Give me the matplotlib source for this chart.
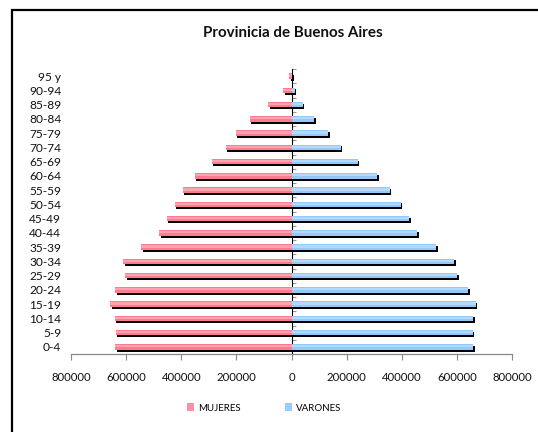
import matplotlib
matplotlib.use("Agg")
import matplotlib.pyplot as plt
import matplotlib.patheffects as pe
from matplotlib.patches import Rectangle, Patch
from matplotlib.ticker import FuncFormatter
import numpy as np

plt.rcParams['font.family'] = ['Lato', 'DejaVu Sans']

age_groups = ["0-4", "5-9", "10-14", "15-19", "20-24", "25-29", "30-34", "35-39",
              "40-44", "45-49", "50-54", "55-59", "60-64", "65-69", "70-74",
              "75-79", "80-84", "85-89", "90-94", "95 y"]
mujeres = [640000, 638000, 641000, 658000, 640000, 604000, 611000, 546000,
           480000, 452000, 423000, 394000, 351000, 289000, 238000,
           202000, 151000, 85000, 30000, 8000]
varones = [659000, 657000, 659000, 669000, 642000, 601000, 590000, 526000,
           456000, 428000, 396000, 356000, 312000, 240000, 179000,
           134000, 83000, 40000, 12000, 3000]
xticks = [-800000, -600000, -400000, -200000, 0, 200000, 400000, 600000, 800000]
title = "Provinicia de Buenos Aires"

W, H = 538, 432
fig = plt.figure(figsize=(W / 100, H / 100), dpi=100)
ax = fig.add_axes([71 / W, 1 - 354 / H, (512 - 71) / W, (354 - 69) / H])

y = np.arange(len(age_groups))
m = -np.array(mujeres)
v = np.array(varones)
bh = 0.40
shadow = [pe.SimplePatchShadow(offset=(1.1, -1.4), shadow_rgbFace='black', alpha=1.0), pe.Normal()]

ax.barh(y, m, height=bh, color='#FF7B8D', edgecolor='none', path_effects=shadow, zorder=2)
ax.barh(y + 0.04, m, height=0.16, color='#FFA2B2', edgecolor='none', zorder=3)
ax.barh(y, v, height=bh, color='#94C8F8', edgecolor='none', path_effects=shadow, zorder=2)
ax.barh(y + 0.04, v, height=0.16, color='#B4D9FF', edgecolor='none', zorder=3)

ax.set_xlim(-800000, 800000)
ax.set_ylim(-0.5, len(age_groups) - 0.5)
ax.set_xticks(xticks)
ax.xaxis.set_major_formatter(FuncFormatter(lambda val, pos: f"{abs(int(val))}"))
ax.set_yticks(y)
ax.set_yticklabels(age_groups)
ax.tick_params(axis='y', length=0, pad=7, labelsize=8.6, labelcolor='#111111')
ax.tick_params(axis='x', length=4, width=0.8, color='#888888', pad=9, labelsize=8.2, labelcolor='#111111', direction='out')

for s in ['top', 'right', 'left']:
    ax.spines[s].set_visible(False)
ax.spines['bottom'].set_color('#888888')
ax.spines['bottom'].set_linewidth(0.9)

sec = ax.secondary_yaxis(0.5)
sec.set_yticks(np.arange(-0.5, len(age_groups), 1.0))
sec.set_yticklabels([])
sec.tick_params(axis='y', length=3, width=0.8, color='#999999', direction='out')
sec.spines['left'].set_color('#999999')
sec.spines['left'].set_linewidth(1.0)

fig.text(293 / W, 1 - 33 / H, title, ha='center', va='center', fontsize=10.9, fontweight='bold', color='#111111')

handles = [Patch(facecolor='#FF8FA2', edgecolor='none', label='MUJERES'),
           Patch(facecolor='#99CCFF', edgecolor='none', label='VARONES')]
fig.legend(handles=handles, loc='center', bbox_to_anchor=(264 / W, 1 - 408 / H), ncol=2,
           frameon=False, fontsize=7, handlelength=0.75, handleheight=0.85,
           handletextpad=0.35, columnspacing=4.6)

frame = Rectangle((12 / W, -0.1), 1.2, 1 - 10 / H + 0.1, transform=fig.transFigure,
                  fill=False, edgecolor='black', linewidth=1.6, clip_on=False)
fig.patches.append(frame)

fig.savefig("out.png", dpi=100)
